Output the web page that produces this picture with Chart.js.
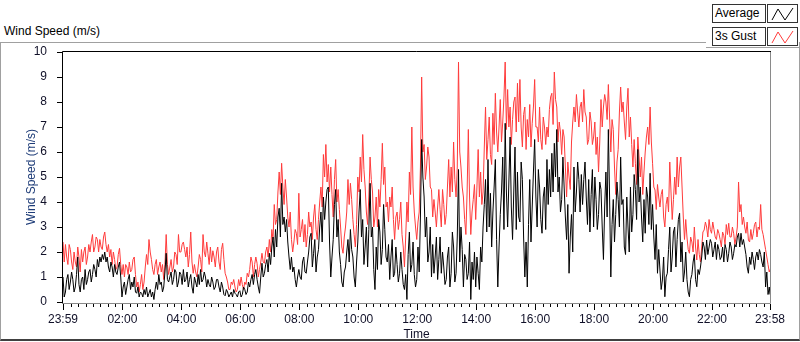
<!DOCTYPE html>
<html>
<head>
<meta charset="utf-8">
<script src="https://cdn.jsdelivr.net/npm/chart.js@4.4.1/dist/chart.umd.min.js"></script>
<style>
body{margin:0;background:#fff;}
#wrap{position:relative;width:800px;height:342px;overflow:hidden;font-family:"Liberation Sans",Arial,sans-serif;font-size:12px;color:#000;}
#panel{position:absolute;left:0;top:42px;width:798px;height:297px;border-left:1px solid #a0a0a0;border-right:1px solid #a0a0a0;border-bottom:2px solid #404040;}
#topA{position:absolute;left:0;top:42px;width:706px;height:1px;background:#a0a0a0;}
#topB{position:absolute;left:706px;top:47px;width:94px;height:1px;background:#a0a0a0;}
#title{position:absolute;left:4px;top:24px;}
.lg{position:absolute;left:712px;width:50px;height:17px;border:1px solid #333;background:#fff;line-height:17px;padding-left:2px;}
.sw{position:absolute;left:767px;width:29px;height:17px;border:1px solid #333;background:#fff;}
canvas{position:absolute;left:0;top:0;}
</style>
</head>
<body>
<div id="wrap">
  <div id="panel"></div>
  <div id="topA"></div>
  <div id="topB"></div>
  <div id="title">Wind Speed (m/s)</div>
  <div class="lg" style="top:4px">Average</div>
  <div class="sw" style="top:4px"><svg width="29" height="17"><polyline points="4,15 10,4 17,15 25,3" fill="none" stroke="#000" stroke-width="1"/></svg></div>
  <div class="lg" style="top:27px">3s Gust</div>
  <div class="sw" style="top:27px"><svg width="29" height="17"><polyline points="4,15 10,4 17,15 25,3" fill="none" stroke="#ff3b3b" stroke-width="1"/></svg></div>
  <canvas id="windChart" width="800" height="342"></canvas>
</div>
<script>
// x axis: minutes since 23:59 of the previous day
const tickLabels=['23:59','02:00','04:00','06:00','08:00','10:00','12:00','14:00','16:00','18:00','20:00','22:00','23:58'];
const tickMinutes=[0,121,241,361,481,601,721,841,961,1081,1201,1321,1439];
const yTicks=[0,1,2,3,4,5,6,7,8,9,10];
const stepMinutes=2.5;
const lastMinute=1439;

// samples every 2.5 minutes, one row per hour
const average=[
1.0,0.2,0.4,0.9,1.1,0.5,0.8,1.2,0.9,0.4,0.6,1.1,1.8,0.7,0.4,0.9,1.0,0.5,1.3,0.7,0.9,1.2,1.3,0.8,
1.1,1.5,1.3,1.0,1.7,1.4,1.8,1.6,1.9,1.7,2.0,1.6,1.8,1.4,1.2,1.6,1.4,1.0,1.5,1.2,1.1,1.4,1.6,1.0,
0.2,0.6,0.8,0.3,0.6,0.9,1.1,0.5,0.8,0.6,1.0,0.4,0.35,0.6,0.2,0.4,0.35,0.2,0.5,0.3,0.6,0.2,0.35,0.5,
0.2,0.4,0.1,0.5,0.8,0.5,1.1,0.7,0.8,0.4,0.6,1.2,1.95,0.9,0.8,1.0,1.2,0.7,0.9,1.3,1.2,0.6,0.8,1.2,
1.1,0.7,1.3,0.8,0.9,1.2,0.6,0.9,1.1,0.6,0.35,1.0,0.8,0.6,1.1,0.7,1.3,0.8,0.9,1.2,1.0,0.6,0.9,0.7,
0.6,1.0,0.8,0.5,0.6,0.9,0.9,0.6,0.4,0.8,0.6,0.3,0.25,0.5,0.4,0.2,0.3,0.4,0.2,0.5,0.35,0.3,0.2,0.4,
0.45,0.2,0.3,0.6,0.5,0.3,0.4,0.8,0.6,0.9,1.1,0.7,1.1,1.3,0.9,0.6,0.35,1.0,1.55,1.0,1.15,1.5,1.7,1.2,
1.95,1.5,2.2,2.6,1.8,2.9,2.2,3.4,3.75,2.6,4.75,3.1,3.4,2.8,3.3,2.4,1.8,1.3,1.8,1.2,1.4,0.9,0.6,1.0,
1.3,1.0,0.9,1.6,1.8,1.2,1.15,1.6,2.0,2.6,2.75,1.4,1.95,2.5,1.2,1.8,2.1,3.0,3.6,2.4,4.2,3.3,4.0,4.5,
4.6,2.4,1.0,1.8,2.5,3.9,4.5,2.6,3.3,2.0,1.5,0.8,0.6,1.2,1.4,2.0,2.5,1.6,2.9,2.1,1.8,1.0,0.6,1.6,
2.4,3.6,4.5,2.6,3.3,1.5,2.2,3.0,1.4,2.9,4.75,2.6,3.0,1.3,0.5,2.2,1.3,3.3,2.8,1.5,2.1,3.9,2.9,1.8,
1.6,2.3,0.9,1.8,2.5,1.0,1.15,2.2,1.5,0.8,1.15,2.0,1.3,0.7,0.5,1.1,0.1,1.9,2.8,1.2,1.5,2.4,1.1,0.6,
0.9,2.2,1.2,3.4,6.5,5.0,4.2,2.6,3.4,1.6,2.0,3.0,1.0,2.3,1.15,1.8,2.6,0.9,1.7,2.6,1.15,2.0,1.4,0.7,
0.9,1.8,2.2,0.6,1.15,2.8,2.2,0.8,1.15,2.6,5.3,1.6,3.0,2.1,0.6,1.9,1.7,0.9,1.15,2.4,0.1,1.6,0.9,2.0,
0.6,1.8,1.15,0.5,2.2,1.6,3.0,3.9,4.9,2.8,5.7,3.0,4.35,2.2,3.6,4.6,5.7,2.5,0.6,2.2,3.5,4.4,5.8,2.9,
7.15,4.4,3.0,4.8,6.6,3.8,2.5,4.4,6.2,2.9,5.2,3.4,3.2,5.6,4.9,2.6,1.0,2.4,0.6,3.1,4.9,2.4,3.8,5.2,
6.5,4.2,3.0,5.3,4.6,3.3,2.75,4.2,4.6,2.9,5.7,3.9,5.3,4.2,5.95,4.4,6.35,5.0,6.9,4.4,5.0,3.6,4.1,5.8,
4.6,3.4,2.5,3.9,1.15,2.6,3.5,2.0,5.4,3.6,4.4,5.6,4.9,3.6,5.1,3.9,4.9,5.6,4.2,3.1,4.9,2.8,4.3,5.3,
3.0,5.0,4.1,2.9,3.5,4.8,4.5,3.0,1.7,3.8,5.2,3.4,6.9,4.2,1.0,3.1,4.1,2.4,3.5,4.8,4.1,3.0,5.8,3.9,
4.1,2.2,1.9,4.2,3.0,2.0,4.6,2.8,3.5,5.1,4.5,3.3,6.1,4.0,4.6,3.4,2.4,4.1,2.75,4.6,4.2,3.1,5.15,2.9,
3.9,2.6,1.7,3.1,1.15,2.1,1.28,0.5,0.88,1.8,0.21,1.0,1.15,2.1,3.0,1.2,1.8,2.8,3.0,1.4,2.5,3.3,3.55,1.6,
2.4,0.8,1.2,2.0,0.9,0.4,0.21,0.9,1.1,1.6,1.9,0.9,0.61,1.3,1.1,1.4,1.8,2.4,2.2,1.7,2.48,1.9,2.2,2.5,
2.35,1.8,2.1,2.4,1.7,2.3,2.1,1.7,1.8,2.2,1.6,2.3,2.1,1.6,1.95,2.4,2.2,1.7,1.95,2.3,2.2,2.6,2.75,2.2,
2.75,2.3,2.5,2.2,1.9,1.4,1.15,1.8,1.5,2.0,1.7,1.3,1.8,2.0,1.68,2.1,1.9,1.6,1.4,2.0,0.6,1.2,0.3,0.6,
0.3
];
const gust=[
2.4,1.6,2.3,1.8,1.5,2.3,2.1,1.6,1.3,2.0,1.6,1.4,2.2,1.8,1.2,2.1,1.6,2.0,2.2,1.5,1.8,2.3,2.0,2.4,
2.7,2.0,2.2,2.6,2.5,2.0,2.5,2.2,2.1,2.6,2.8,2.3,2.0,2.3,1.8,2.1,1.5,2.0,1.7,1.3,1.4,1.9,2.15,1.5,
1.1,1.5,1.0,1.5,1.4,1.1,1.6,1.2,1.3,1.7,1.8,1.1,0.6,0.8,0.4,0.7,1.1,0.5,0.8,1.4,1.9,1.5,2.5,2.0,
1.7,1.3,1.1,1.5,1.7,1.1,1.4,1.6,1.2,1.5,0.9,1.5,2.7,1.5,1.1,1.4,1.7,1.2,1.4,2.0,1.9,1.5,2.7,2.0,
2.0,2.3,2.4,2.1,1.8,2.2,1.4,1.9,2.8,1.6,1.15,1.5,1.2,1.0,1.4,1.9,1.7,1.2,2.7,2.0,1.8,2.4,1.95,1.5,
2.2,1.6,2.05,1.8,1.4,2.0,2.2,1.6,1.3,2.1,2.35,1.7,1.15,1.0,0.8,0.5,0.5,0.8,0.7,0.9,0.6,0.4,0.5,0.9,
0.65,1.0,0.7,0.5,0.8,0.7,1.15,1.0,1.3,1.8,1.6,1.0,1.5,1.8,1.55,1.0,1.3,1.6,1.95,1.6,1.55,2.0,2.2,1.8,
2.5,2.0,2.9,2.5,3.9,3.1,3.3,4.4,5.2,4.3,5.55,4.6,3.9,4.9,4.2,3.4,3.0,3.6,2.5,2.0,2.4,2.9,2.75,2.3,
4.35,2.6,2.9,3.3,2.4,3.1,2.2,2.7,3.6,3.0,3.2,2.5,3.4,3.9,2.9,2.5,3.3,4.0,4.6,3.8,5.9,5.0,6.3,4.8,
5.5,4.4,5.4,4.3,3.4,4.9,5.7,4.0,4.5,3.7,3.0,2.2,1.95,2.6,3.0,3.6,4.9,3.9,4.75,4.1,3.3,2.7,2.2,3.1,
5.0,4.4,5.8,4.8,6.7,5.3,4.6,3.6,3.1,4.2,5.8,4.9,4.4,3.0,3.4,4.2,3.0,4.5,3.8,4.9,6.35,4.7,5.4,3.8,
4.0,3.2,4.2,3.8,4.6,3.3,2.5,3.4,3.6,2.9,3.3,4.0,2.7,2.2,1.4,2.6,4.0,3.2,5.2,4.3,7.0,4.6,3.6,3.0,
2.5,3.2,3.6,5.4,9.0,6.0,6.3,4.9,5.4,6.2,5.8,4.6,4.5,3.4,4.1,3.6,3.0,3.8,4.5,3.7,3.0,4.5,3.9,3.1,
3.5,4.6,5.7,4.2,5.4,4.4,6.4,4.9,4.2,5.4,9.6,6.0,5.4,4.6,4.2,3.3,2.7,4.4,6.9,4.2,2.7,3.6,4.1,4.7,
3.3,4.6,6.1,4.2,5.2,3.9,4.4,6.2,7.8,5.7,6.5,7.4,5.9,5.5,7.55,6.3,8.35,6.8,6.0,7.0,8.1,6.4,7.2,8.2,
9.6,6.9,8.5,7.0,7.8,6.3,7.3,8.0,8.2,6.8,8.75,7.2,8.9,7.0,6.2,7.5,7.8,6.1,7.3,6.6,7.9,6.2,7.15,7.8,
8.9,7.0,7.0,6.4,7.8,6.5,6.1,7.4,7.0,6.3,7.0,6.6,7.7,8.2,8.35,7.1,9.2,8.1,7.8,6.4,7.2,6.8,5.9,6.9,
6.6,5.4,4.2,5.6,5.0,4.5,6.4,7.2,7.8,7.2,8.3,7.6,7.0,7.8,8.0,7.2,8.5,7.6,7.4,6.3,6.5,7.6,7.2,6.3,
6.6,7.2,5.9,6.6,5.2,6.4,8.1,7.0,7.8,8.3,8.0,7.3,8.7,7.4,6.0,7.3,6.9,5.4,4.3,5.6,6.1,7.6,8.6,7.6,
8.0,7.2,6.5,7.8,8.55,6.6,7.4,6.3,5.4,6.5,5.55,4.7,6.6,5.8,5.0,5.8,4.3,5.2,6.0,6.6,7.0,6.3,7.8,6.4,
5.55,4.6,4.48,3.7,4.7,4.2,3.8,4.3,4.5,3.4,3.0,3.9,4.2,3.6,5.6,4.4,3.3,4.1,5.0,4.3,5.8,4.6,5.4,5.8,
4.6,3.4,2.5,3.3,2.6,2.1,1.95,2.6,2.4,2.0,3.0,2.2,1.68,2.5,1.9,1.6,2.2,2.8,2.88,3.2,3.0,2.6,3.3,2.9,
2.75,3.2,2.9,2.6,2.5,2.9,2.75,2.5,2.2,2.8,2.65,2.3,3.1,2.7,3.15,2.6,2.6,3.0,2.75,2.3,2.6,3.0,4.8,3.6,
3.9,3.1,3.4,3.0,2.75,3.2,2.48,2.4,2.9,2.5,2.75,3.1,3.2,2.6,3.0,2.9,3.9,2.9,2.7,2.4,2.1,1.8,1.5,1.2,
1.3
];

const toPoints=arr=>arr.map((v,i)=>({x:Math.min(i*stepMinutes,lastMinute),y:v}));
const fontFamily='"Liberation Sans", Arial, sans-serif';

const framePlugin={
  id:'frame',
  afterDraw(chart){
    const {ctx,chartArea:a,scales:{x,y}}=chart;
    ctx.save();
    ctx.lineWidth=1;
    ctx.strokeStyle='#000';
    ctx.beginPath();
    // minor ticks every 15 minutes from 00:00
    for(let m=1;m<lastMinute;m+=15){
      const px=Math.round(x.getPixelForValue(m))+0.5;
      ctx.moveTo(px,a.bottom+2);ctx.lineTo(px,a.bottom+5);
    }
    tickMinutes.forEach(m=>{
      const px=Math.round(x.getPixelForValue(m))+0.5;
      ctx.moveTo(px,a.bottom+2);ctx.lineTo(px,a.bottom+8);
    });
    yTicks.forEach(v=>{
      const py=Math.round(y.getPixelForValue(v))+0.5;
      ctx.moveTo(a.left-6,py);ctx.lineTo(a.left-1,py);
    });
    ctx.stroke();
    // plot frame
    ctx.beginPath();
    ctx.moveTo(a.left-0.5,a.bottom+1);ctx.lineTo(a.left-0.5,a.top-0.5);ctx.lineTo(a.right+1,a.top-0.5);
    ctx.stroke();
    ctx.strokeStyle='#8a8a8a';
    ctx.beginPath();
    ctx.moveTo(a.right+0.5,a.top);ctx.lineTo(a.right+0.5,a.bottom+1.5);ctx.lineTo(a.left-1,a.bottom+1.5);
    ctx.stroke();
    ctx.restore();
  }
};

const ctx=document.getElementById('windChart').getContext('2d');
const windChart=new Chart(ctx,{
  type:'line',
  data:{
    datasets:[{
      label:'Average',
      data:toPoints(average),
      borderColor:'#000000',
      borderWidth:1
    },{
      label:'3s Gust',
      data:toPoints(gust),
      borderColor:'#ff3b3b',
      borderWidth:1
    }]
  },
  options:{
    responsive:false,
    animation:false,
    devicePixelRatio:1,
    layout:{padding:{top:52,right:30,left:0,bottom:0}},
    elements:{point:{radius:0},line:{tension:0}},
    plugins:{legend:{display:false},tooltip:{enabled:false}},
    scales:{
      x:{
        type:'linear',min:0,max:lastMinute,
        grid:{display:false},border:{display:false},
        afterBuildTicks:s=>{s.ticks=tickMinutes.map(v=>({value:v}));},
        afterFit:s=>{s.height=40;},
        ticks:{autoSkip:false,maxRotation:0,padding:2,color:'#101028',font:{family:fontFamily,size:12},
          callback:(v,i)=>tickLabels[i]},
        title:{display:true,text:'Time',padding:{top:2,bottom:0},color:'#101028',font:{family:fontFamily,size:12}}
      },
      y:{
        min:0,max:10,
        grid:{display:false},border:{display:false},
        afterBuildTicks:s=>{s.ticks=yTicks.map(v=>({value:v}));},
        afterFit:s=>{s.width=63;},
        ticks:{padding:8,color:'#101028',font:{family:fontFamily,size:12}},
        title:{display:true,text:'Wind Speed (m/s)',padding:{top:24,bottom:0},color:'#1e3c78',font:{family:fontFamily,size:12}}
      }
    }
  },
  plugins:[framePlugin]
});
</script>
</body>
</html>
